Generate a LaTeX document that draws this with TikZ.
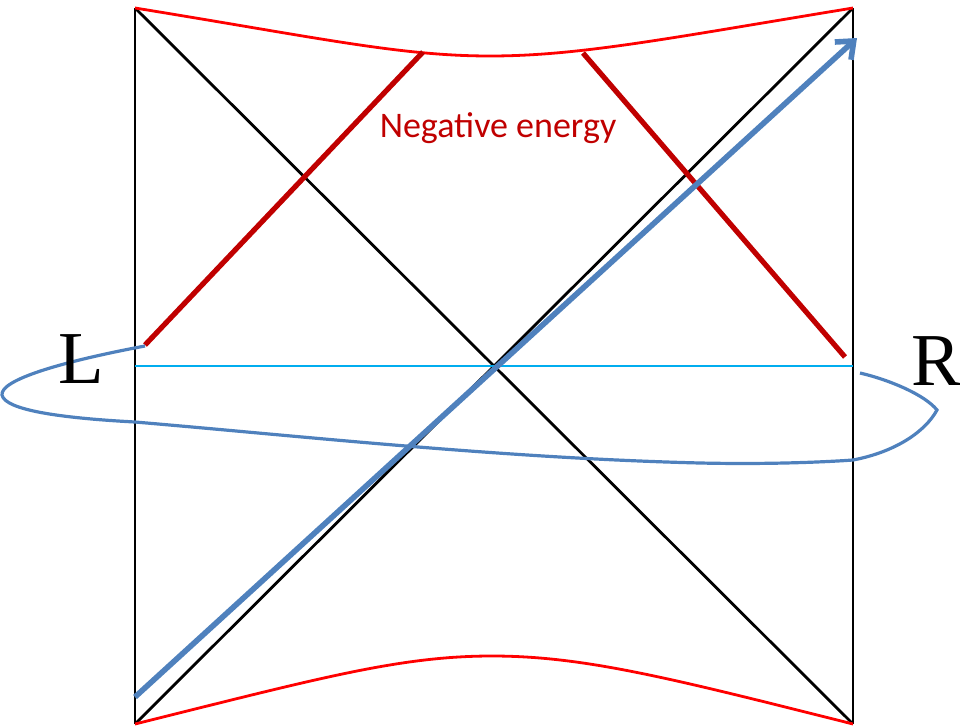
\documentclass[tikz,border=0pt]{standalone}
\usepackage{fontspec}
\setmainfont{Liberation Serif}
\newfontfamily\calib{Carlito}
\usetikzlibrary{arrows.meta}
\definecolor{darkr}{HTML}{C00000}
\definecolor{steel}{HTML}{4F81BD}
\tikzset{
  frame/.style={black, line width=2.1pt},
  horizon/.style={red, line width=2.1pt},
  shock/.style={darkr, line width=3.9pt},
  slice/.style={cyan, line width=2.1pt},
  loop/.style={steel, line width=2.4pt},
  signal/.style={steel, line width=4.2pt, -{Straight Barb[length=11pt,width=18pt,line width=4.2pt]}},
  bigletter/.style={font=\fontsize{56}{56}\selectfont, inner sep=0pt, anchor=base}
}
\begin{document}
\begin{tikzpicture}[x=0.75pt,y=-0.75pt]
\useasboundingbox (0,0) rectangle (960,728);
\coordinate (TL) at (135,8);
\coordinate (TR) at (853,8);
\coordinate (BL) at (135,724);
\coordinate (BR) at (853,724);
\coordinate (ML) at (135,366);
\coordinate (MR) at (853,366);
% square sides and diagonals
\draw[frame] (TL) -- (BL);
\draw[frame] (TR) -- (BR);
\draw[frame] (TL) -- (BR);
\draw[frame] (TR) -- (BL);
% singularities
\draw[horizon] (TL) .. controls (320,38) and (400,56) .. (490,56) .. controls (580,56) and (670,38) .. (TR);
\draw[horizon] (BL) .. controls (320,678) and (400,656) .. (492,656) .. controls (584,656) and (670,678) .. (BR);
% cyan slice
\draw[slice] (ML) -- (MR);
% negative energy shocks
\coordinate (s1a) at (145,345);
\coordinate (s1b) at (423,52);
\coordinate (s2a) at (583,53);
\coordinate (s2b) at (845,357);
\draw[shock] (s1a) -- (s1b);
\draw[shock] (s2a) -- (s2b);
\node[text=darkr, font=\calib\fontsize{27}{27}\selectfont, inner sep=0pt] (neg) at (498,128) {Negative energy};
% blue loop
\coordinate (lpS) at (145,346);
\coordinate (lpE) at (860,373);
\draw[loop] (lpS) .. controls (60,362) and (0,380) .. (2,395) .. controls (5,410) and (60,418) .. (135,422) .. controls (300,436) and (500,458) .. (700,463) .. controls (790,465) and (853,460) .. (853,460) .. controls (895,452) and (925,432) .. (937,410) .. controls (925,395) and (890,380) .. (lpE);
% signal arrow
\coordinate (aS) at (135,697);
\coordinate (aE) at (857,38);
\draw[signal] (aS) -- (aE);
% labels
\node[bigletter] (L) at (81,383) {L};
\node[bigletter] (R) at (936,385) {R};
\end{tikzpicture}
\end{document}
